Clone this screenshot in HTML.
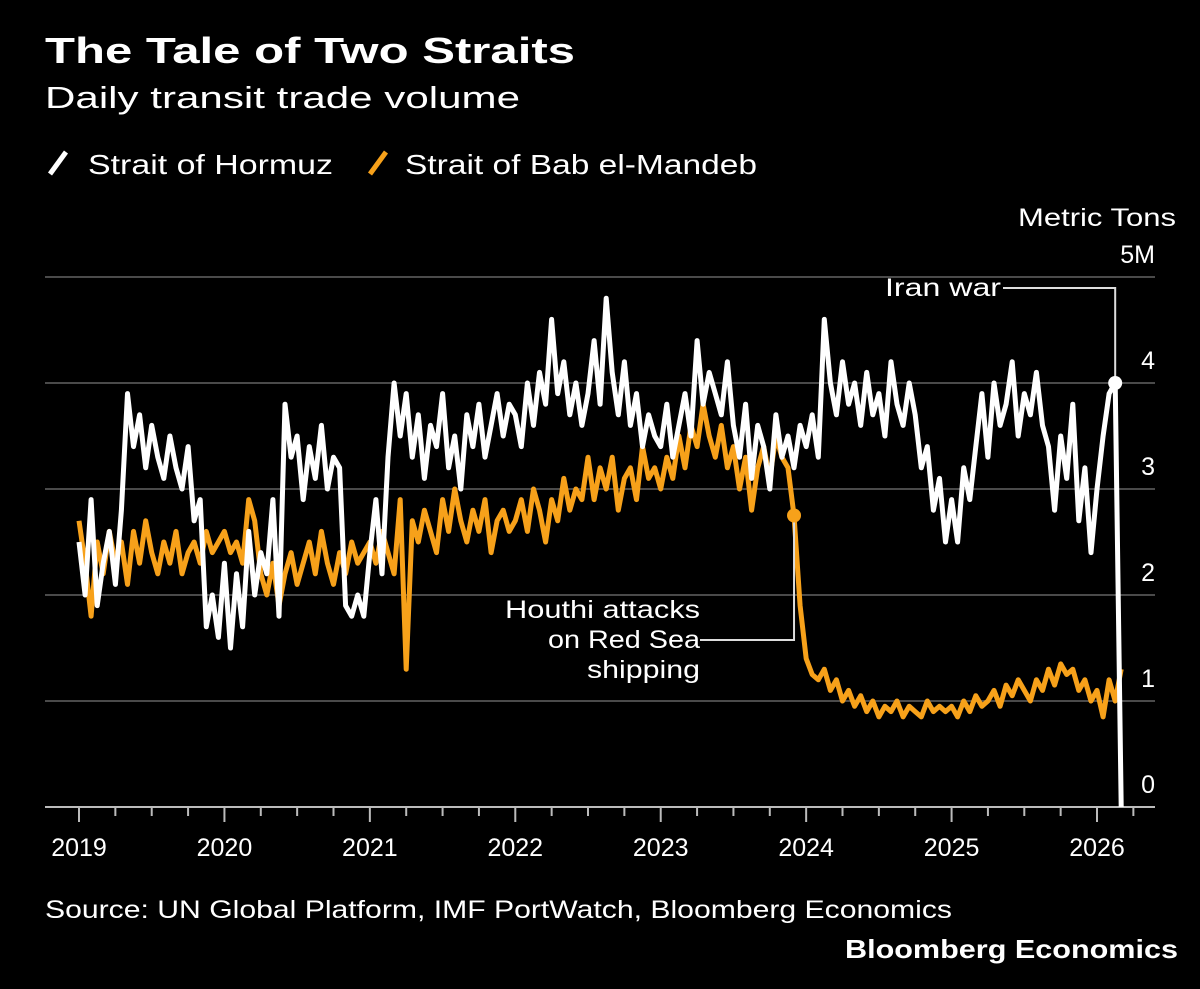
<!DOCTYPE html>
<html><head><meta charset="utf-8"><style>
html,body{margin:0;padding:0;background:#000;}
svg{display:block;}
text{font-family:"Liberation Sans",sans-serif;fill:#fff;}
</style></head><body>
<svg id="chart" width="1200" height="989" viewBox="0 0 1200 989">
<rect width="1200" height="989" fill="#000"/>
<text x="45" y="63" font-size="36" font-weight="bold" textLength="530" lengthAdjust="spacingAndGlyphs">The Tale of Two Straits</text>
<text x="45" y="108" font-size="31" textLength="475" lengthAdjust="spacingAndGlyphs">Daily transit trade volume</text>
<g>
<line x1="50" y1="174" x2="66" y2="152" stroke="#fff" stroke-width="5"/>
<text x="88" y="174" font-size="28" textLength="245" lengthAdjust="spacingAndGlyphs">Strait of Hormuz</text>
<line x1="370" y1="174" x2="386" y2="152" stroke="#f7a11a" stroke-width="5"/>
<text x="405" y="174" font-size="28" textLength="352" lengthAdjust="spacingAndGlyphs">Strait of Bab el-Mandeb</text>
</g>
<text x="1176" y="226" font-size="25" text-anchor="end" textLength="158" lengthAdjust="spacingAndGlyphs">Metric Tons</text>
<g id="grid"></g>
<g id="xaxis"></g>
<g id="series"></g>
<g id="annot"></g>
<text x="45" y="918" font-size="25" textLength="907" lengthAdjust="spacingAndGlyphs">Source: UN Global Platform, IMF PortWatch, Bloomberg Economics</text>
<text x="1178" y="958" font-size="26" font-weight="bold" text-anchor="end" textLength="333" lengthAdjust="spacingAndGlyphs">Bloomberg Economics</text>
</svg>
<script>
// half-monthly samples starting 2019.0
const startYear = 2019;
const stepYears = 1/24;
const yTicks = [0,1,2,3,4,5];
const yTickLabels = ["0","1","2","3","4","5M"];
const xYears = [2019,2020,2021,2022,2023,2024,2025,2026];
const hormuz = [
2.5,2.0,2.9,1.9,2.3,2.6,2.1,2.8,3.9,3.4,3.7,3.2,3.6,3.3,3.1,3.5,3.2,3.0,3.4,2.7,2.9,1.7,2.0,1.6,
2.3,1.5,2.2,1.7,2.6,2.0,2.4,2.2,2.9,1.8,3.8,3.3,3.5,2.9,3.4,3.1,3.6,3.0,3.3,3.2,1.9,1.8,2.0,1.8,
2.4,2.9,2.2,3.3,4.0,3.5,3.9,3.3,3.7,3.1,3.6,3.4,3.9,3.2,3.5,3.0,3.7,3.4,3.8,3.3,3.6,3.9,3.5,3.8,
3.7,3.4,4.0,3.6,4.1,3.8,4.6,3.9,4.2,3.7,4.0,3.6,3.9,4.4,3.8,4.8,4.1,3.7,4.2,3.6,3.9,3.4,3.7,3.5,
3.4,3.8,3.3,3.6,3.9,3.5,4.4,3.8,4.1,3.9,3.7,4.2,3.6,3.3,3.8,3.1,3.6,3.4,3.0,3.7,3.3,3.5,3.2,3.6,
3.4,3.7,3.3,4.6,4.0,3.7,4.2,3.8,4.0,3.6,4.1,3.7,3.9,3.5,4.2,3.8,3.6,4.0,3.7,3.2,3.4,2.8,3.1,2.5,
2.9,2.5,3.2,2.9,3.4,3.9,3.3,4.0,3.6,3.8,4.2,3.5,3.9,3.7,4.1,3.6,3.4,2.8,3.5,3.1,3.8,2.7,3.2,2.4,
3.0,3.5,3.9,4.0,0.0];
const babElMandeb = [
2.7,2.3,1.8,2.5,2.2,2.6,2.3,2.5,2.1,2.6,2.3,2.7,2.4,2.2,2.5,2.3,2.6,2.2,2.4,2.5,2.3,2.6,2.4,2.5,
2.6,2.4,2.5,2.3,2.9,2.7,2.2,2.0,2.3,1.9,2.2,2.4,2.1,2.3,2.5,2.2,2.6,2.3,2.1,2.4,2.2,2.5,2.3,2.4,
2.5,2.3,2.6,2.4,2.2,2.9,1.3,2.7,2.5,2.8,2.6,2.4,2.9,2.6,3.0,2.7,2.5,2.8,2.6,2.9,2.4,2.7,2.8,2.6,
2.7,2.9,2.6,3.0,2.8,2.5,2.9,2.7,3.1,2.8,3.0,2.9,3.3,2.9,3.2,3.0,3.3,2.8,3.1,3.2,2.9,3.4,3.1,3.2,
3.0,3.3,3.1,3.5,3.2,3.6,3.4,3.8,3.5,3.3,3.6,3.2,3.4,3.0,3.3,2.8,3.2,3.4,3.1,3.5,3.3,3.2,2.75,1.9,
1.4,1.25,1.2,1.3,1.1,1.2,1.0,1.1,0.95,1.05,0.9,1.0,0.85,0.95,0.9,1.0,0.85,0.95,0.9,0.85,1.0,0.9,0.95,0.9,
0.95,0.85,1.0,0.9,1.05,0.95,1.0,1.1,0.95,1.15,1.05,1.2,1.1,1.0,1.2,1.1,1.3,1.15,1.35,1.25,1.3,1.1,1.2,1.0,
1.1,0.85,1.2,1.0,1.3];
const houthiIndex = 118;
const iranIndex = 171;

const NS = "http://www.w3.org/2000/svg";
function xScale(t){ return 79 + (t - 2019) * 145.43; }
function yScale(v){ return 807 - v * 106; }
function mk(tag, attrs, parent){ const e=document.createElementNS(NS,tag); for(const k in attrs) e.setAttribute(k,attrs[k]); parent.appendChild(e); return e; }

const grid=document.getElementById('grid');
yTicks.forEach((v,i)=>{
  if(v>0){
    const l=mk('line',{x1:45,x2:1155,y1:yScale(v),y2:yScale(v),stroke:'#4a4a4a','stroke-width':2},grid);
    
    
  }
  const t=mk('text',{x:1155,y:yScale(v)-14,'font-size':25,'text-anchor':'end'},grid);
  t.textContent=yTickLabels[i];
  
  
});
const xa=document.getElementById('xaxis');
const ax=mk('line',{x1:45,x2:1155,y1:807,y2:807,stroke:'#bbb','stroke-width':2},xa);


for(let q=0;q<=29;q++){
  const t=2019+q*0.25; const major=(q%4===0);
  const tk=mk('line',{x1:xScale(t),x2:xScale(t),y1:808,y2:major?822:816,stroke:'#bbb','stroke-width':2},xa);
  
  
}
xYears.forEach(y=>{
  const t=mk('text',{x:xScale(y),y:856,'font-size':25,'text-anchor':'middle'},xa);
  t.textContent=String(y);
  
  
});
function pathFor(arr){ return arr.map((v,i)=>(i?'L':'M')+xScale(startYear+i*stepYears).toFixed(1)+','+yScale(v).toFixed(1)).join(''); }
const sg=document.getElementById('series');
const pb=mk('path',{d:pathFor(babElMandeb),fill:'none',stroke:'#f7a11a','stroke-width':5,'stroke-linejoin':'round'},sg);


const ph=mk('path',{d:pathFor(hormuz),fill:'none',stroke:'#fff','stroke-width':5,'stroke-linejoin':'round'},sg);



const an=document.getElementById('annot');
const hx=xScale(startYear+houthiIndex*stepYears), hy=yScale(babElMandeb[houthiIndex]);
const hl=mk('polyline',{points:`700,640 ${hx},640 ${hx},${hy}`,fill:'none',stroke:'#ddd','stroke-width':2},an);


const hm=mk('circle',{cx:hx,cy:hy,r:7,fill:'#f7a11a'},an);


[['Houthi attacks',618,195],['on Red Sea',648,152],['shipping',678,113]].forEach(([s,y,w],i)=>{
  const t=mk('text',{x:700,y:y,'font-size':25,'text-anchor':'end',textLength:w,lengthAdjust:'spacingAndGlyphs'},an);
  t.textContent=s;
  
  
});
const ix=xScale(startYear+iranIndex*stepYears), iy=yScale(hormuz[iranIndex]);
const il=mk('polyline',{points:`1003,288 ${ix},288 ${ix},${iy}`,fill:'none',stroke:'#ddd','stroke-width':2},an);


const im=mk('circle',{cx:ix,cy:iy,r:7,fill:'#fff'},an);


const it=mk('text',{x:1001,y:296,'font-size':25,'text-anchor':'end',textLength:116,lengthAdjust:'spacingAndGlyphs'},an);
it.textContent='Iran war';


</script>
</body></html>
